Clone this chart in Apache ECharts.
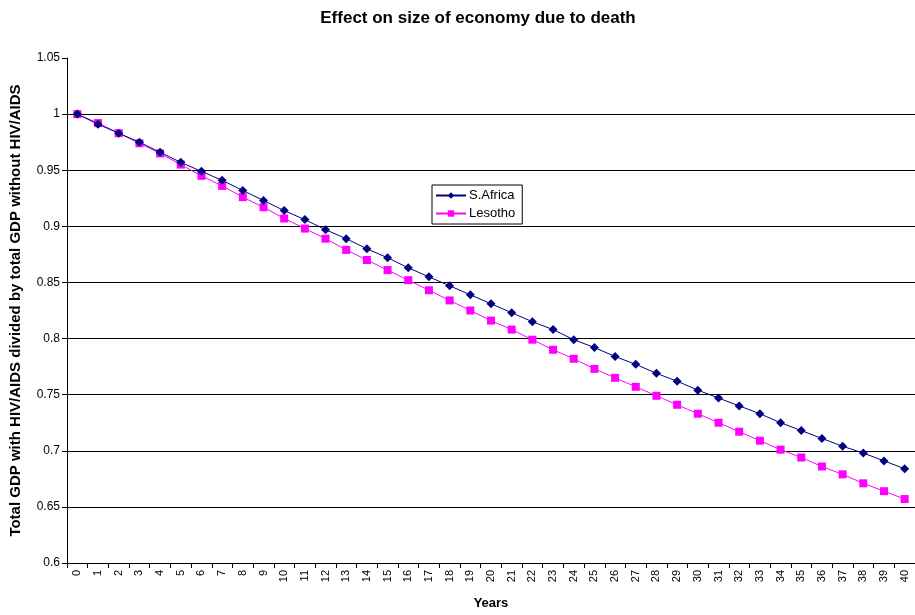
<!DOCTYPE html>
<html>
<head>
<meta charset="utf-8">
<script src="https://cdn.jsdelivr.net/npm/echarts@6/dist/echarts.min.js"></script>
<style>
html,body{margin:0;padding:0;background:#fff;}
#chart{width:915px;height:615px;}
</style>
</head>
<body>
<div id="chart"></div>
<script>
var years = [];
for (var i = 0; i <= 40; i++) years.push(String(i));

var southAfrica = [1.000,0.991,0.983,0.975,0.966,0.957,0.949,0.941,0.932,0.923,
  0.914,0.906,0.897,0.889,0.880,0.872,0.863,0.855,0.847,0.839,
  0.831,0.823,0.815,0.808,0.799,0.792,0.784,0.777,0.769,0.762,
  0.754,0.747,0.740,0.733,0.725,0.718,0.711,0.704,0.698,0.691,0.684];

var lesotho = [1.000,0.992,0.983,0.974,0.965,0.955,0.945,0.936,0.926,0.917,
  0.907,0.898,0.889,0.879,0.870,0.861,0.852,0.843,0.834,0.825,
  0.816,0.808,0.799,0.790,0.782,0.773,0.765,0.757,0.749,0.741,
  0.733,0.725,0.717,0.709,0.701,0.694,0.686,0.679,0.671,0.664,0.657];

var FONT = '"Liberation Sans", Arial, sans-serif';
var chart = echarts.init(document.getElementById('chart'), null, {renderer: 'canvas'});
chart.setOption({
  animation: false,
  backgroundColor: '#ffffff',
  title: {
    text: 'Effect on size of economy due to death',
    left: 473,
    top: 5,
    textAlign: 'center',
    textStyle: {fontFamily: FONT, fontSize: 17, fontWeight: 'bold', color: '#000'}
  },
  legend: {
    orient: 'vertical',
    left: 432,
    top: 185,
    borderColor: '#000',
    borderWidth: 1,
    borderRadius: 0,
    padding: [4, 7, 4, 3],
    itemGap: 5,
    itemWidth: 30,
    itemHeight: 8,
    textStyle: {fontFamily: FONT, fontSize: 13, color: '#000', padding: [0, 0, 0, -2]},
    data: ['S.Africa', 'Lesotho']
  },
  grid: {left: 62, top: 58, width: 857, height: 514, containLabel: false},
  xAxis: {
    type: 'category',
    data: years,
    boundaryGap: true,
    name: 'Years',
    nameLocation: 'middle',
    nameGap: 34,
    nameTextStyle: {fontFamily: FONT, fontSize: 13, fontWeight: 'bold', color: '#000'},
    axisLine: {lineStyle: {color: '#000', width: 1}},
    axisTick: {show: true, inside: false, length: 5, lineStyle: {color: '#000'}},
    axisLabel: {rotate: 90, interval: 0, fontFamily: FONT, fontSize: 11, color: '#000', margin: 7},
    splitLine: {show: false}
  },
  yAxis: {
    type: 'value',
    min: 0.6,
    max: 1.05,
    interval: 0.05,
    name: 'Total GDP with HIV/AIDS divided by total GDP without HIV/AIDS',
    nameLocation: 'middle',
    nameGap: 44,
    nameTextStyle: {fontFamily: FONT, fontSize: 15, fontWeight: 'bold', color: '#000'},
    axisLine: {show: true, lineStyle: {color: '#000', width: 1}},
    axisTick: {show: true, inside: false, length: 5, lineStyle: {color: '#000'}},
    axisLabel: {fontFamily: FONT, fontSize: 12, color: '#000', margin: 7,
      formatter: function (v) { return String(parseFloat(v.toFixed(2))); }},
    splitLine: {show: true, showMaxLine: false, lineStyle: {color: '#000', width: 1}}
  },
  series: [
    {
      name: 'S.Africa',
      type: 'line',
      data: southAfrica,
      symbol: 'diamond',
      symbolSize: 9,
      color: '#000080',
      lineStyle: {color: '#000080', width: 1},
      itemStyle: {color: '#000080'},
      z: 3
    },
    {
      name: 'Lesotho',
      type: 'line',
      data: lesotho,
      symbol: 'rect',
      symbolSize: 8,
      color: '#FF00FF',
      lineStyle: {color: '#FF00FF', width: 1},
      itemStyle: {color: '#FF00FF'},
      z: 2
    }
  ]
});
</script>
</body>
</html>
